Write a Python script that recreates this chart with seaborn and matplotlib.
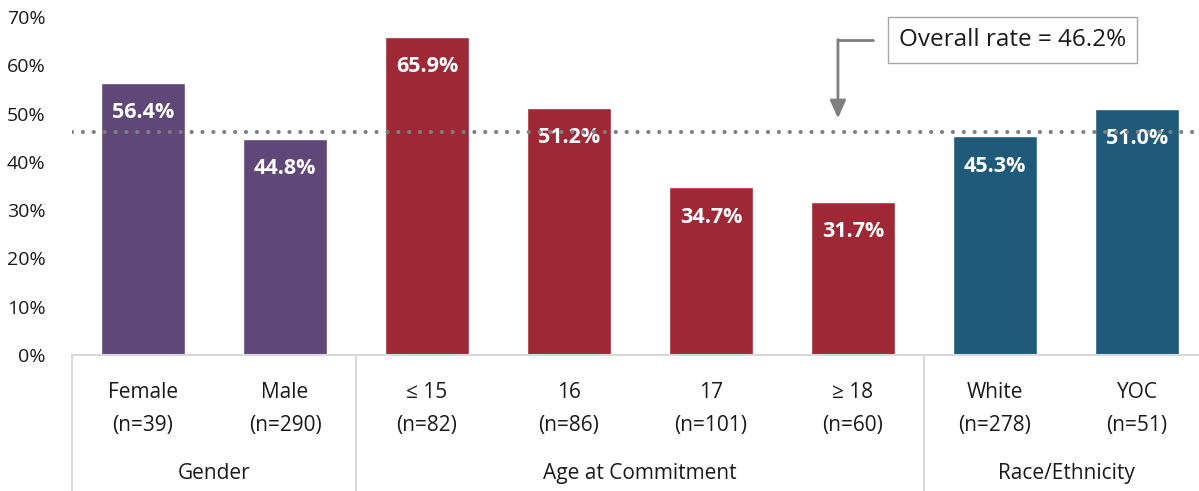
import matplotlib
matplotlib.use("Agg")
import matplotlib.pyplot as plt
import seaborn as sns
import pandas as pd
from matplotlib.transforms import blended_transform_factory

categories = ["Female\n(n=39)", "Male\n(n=290)", "≤ 15\n(n=82)", "16\n(n=86)",
              "17\n(n=101)", "≥ 18\n(n=60)", "White\n(n=278)", "YOC\n(n=51)"]
values = [56.4, 44.8, 65.9, 51.2, 34.7, 31.7, 45.3, 51.0]
groups = ["Gender", "Gender", "Age at Commitment", "Age at Commitment",
          "Age at Commitment", "Age at Commitment", "Race/Ethnicity", "Race/Ethnicity"]
group_names = ["Gender", "Age at Commitment", "Race/Ethnicity"]
group_colors = ["#5f4878", "#9e2836", "#1f5a7b"]
overall_rate = 46.2
yticks = [0, 10, 20, 30, 40, 50, 60, 70]

sns.set_theme(style="white")
plt.rcParams['font.family'] = ['Open Sans', 'DejaVu Sans']

df = pd.DataFrame({"cat": categories, "val": values, "grp": groups})

fig = plt.figure(figsize=(11.99, 4.91), dpi=100)
ax = fig.add_axes([72/1199, 136/491, 1 - 72/1199, (355-17)/491])

sns.barplot(data=df, x="cat", y="val", hue="grp", hue_order=group_names,
            palette=group_colors, dodge=False, width=0.59, ax=ax, legend=False,
            saturation=1)

ax.set_xlim(-0.5, -0.5 + (1199-72)/142)
ax.set_ylim(0, 70)
ax.set_yticks(yticks)
ax.set_yticklabels([f"{t}%" for t in yticks], fontsize=14, color="#1a1a1a")
ax.set_xticks(range(len(categories)))
ax.set_xticklabels(categories, fontsize=15, color="#1a1a1a", linespacing=1.75)
ax.tick_params(axis="x", length=0, pad=19.5)
ax.tick_params(axis="y", length=0, pad=19)
ax.set_xlabel("")
ax.set_ylabel("")
for s in ["top", "right", "left"]:
    ax.spines[s].set_visible(False)
ax.spines["bottom"].set_color("#d9d9d9")
ax.spines["bottom"].set_linewidth(1.5)

# value labels
for i, v in enumerate(values):
    ax.annotate(f"{v:.1f}%", (i, v), xytext=(0, -30), textcoords="offset pixels",
                ha="center", va="center", color="white", fontsize=15.5, fontweight="bold")

# overall dotted line
ax.axhline(overall_rate, color="#7f7f7f", lw=3, ls=(0, (0.01, 2.6)),
           dash_capstyle="round", zorder=5)

# group separators and labels
trans = blended_transform_factory(ax.transData, ax.transAxes)
bounds = [-0.5, 1.5, 5.5]
for b in bounds:
    ax.plot([b, b], [0, -0.41], transform=trans, color="#d9d9d9", lw=1.5, clip_on=False)
starts = [0, 2, 6]
ends = [1, 5, 7]
for name, s, e in zip(group_names, starts, ends):
    ax.text((s + e) / 2, -0.35, name, transform=trans, ha="center", va="center",
            fontsize=15, color="#1a1a1a")

# annotation box and arrow
ax.text(6.125, 65.2, "Overall rate = 46.2%", ha="center", va="center", fontsize=17.5,
        color="#1a1a1a",
        bbox=dict(boxstyle="square,pad=0.45", fc="white", ec="#a6a6a6", lw=1))
ax.plot([5.14, 4.894], [65.2, 65.2], color="#7f7f7f", lw=2, clip_on=False)
ax.annotate("", xy=(4.894, 49.0), xytext=(4.894, 65.35),
            arrowprops=dict(arrowstyle="-|>,head_length=0.9,head_width=0.4",
                            color="#7f7f7f", lw=2, shrinkA=0, shrinkB=0))

fig.savefig("out.png", dpi=100)
